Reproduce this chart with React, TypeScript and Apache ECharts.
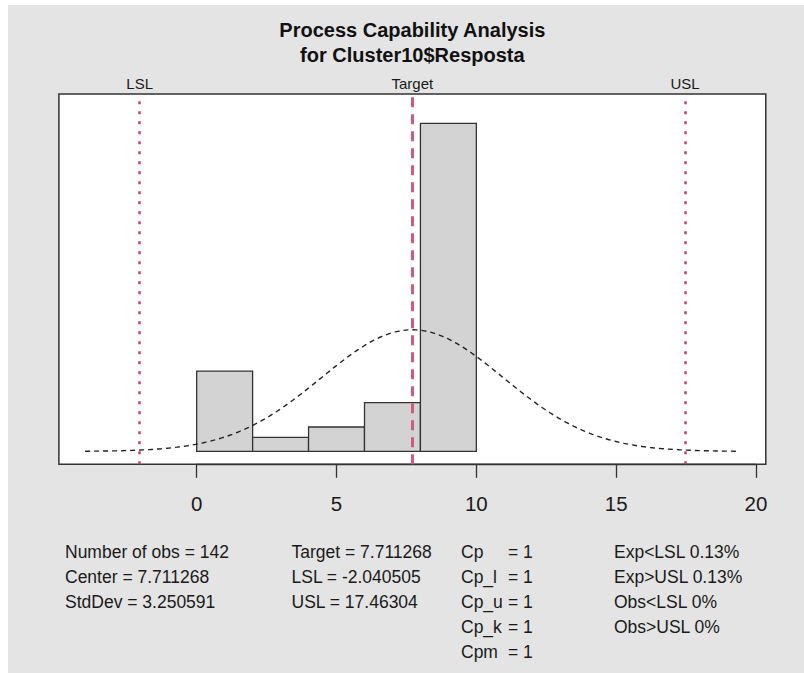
import React, { useEffect, useRef } from "react";
import * as echarts from "echarts";

// ---- data ----
const binEdges = [0, 2, 4, 6, 8, 10];
const binCounts = [23, 4, 7, 14, 94];
const nObs = 142;
const center = 7.711268;
const stdDev = 3.250591;
const LSL = -2.040505;
const USL = 17.46304;
const target = 7.711268;
const xTicks = [0, 5, 10, 15, 20];

const statsCol1 = ["Number of obs = 142", "Center = 7.711268", "StdDev = 3.250591"];
const statsCol2 = ["Target = 7.711268", "LSL = -2.040505", "USL = 17.46304"];
const capNames = ["Cp", "Cp_l", "Cp_u", "Cp_k", "Cpm"];
const capValues = ["1", "1", "1", "1", "1"];
const statsCol4 = ["Exp<LSL 0.13%", "Exp>USL 0.13%", "Obs<LSL 0%", "Obs>USL 0%"];

const FONT = "'Liberation Sans', Arial, sans-serif";

export default function App() {
  const ref = useRef<HTMLDivElement>(null);
  useEffect(() => {
    if (!ref.current) return;
    const chart = echarts.init(ref.current, undefined, { renderer: "svg" });

    const histData = binCounts.map((c, i) => {
      const w = binEdges[i + 1] - binEdges[i];
      return [binEdges[i], binEdges[i + 1], c / (nObs * w)];
    });

    // normal density from the stated center / std.dev (center ± 3.6 sd)
    const lo = center - 3.6 * stdDev;
    const hi = center + 3.6 * stdDev;
    const nPts = 250;
    const curve: number[][] = [];
    for (let i = 0; i < nPts; i++) {
      const x = lo + ((hi - lo) * i) / (nPts - 1);
      const z = (x - center) / stdDev;
      curve.push([x, Math.exp(-0.5 * z * z) / (stdDev * Math.sqrt(2 * Math.PI))]);
    }
    const pad = (hi - lo) * 0.04;

    const gLeft = 58.9;
    const gTop = 94;
    const gWidth = 706.9;
    const gHeight = 370.3;
    const xMin = lo - pad;
    const xMax = hi + pad;
    const x0px = gLeft + ((0 - xMin) / (xMax - xMin)) * gWidth;
    const x20px = gLeft + ((20 - xMin) / (xMax - xMin)) * gWidth;

    const textStyle = (t: string, x: number, y: number, align = "left") => ({
      type: "text",
      x,
      y,
      silent: true,
      style: {
        text: t,
        fill: "#1a1a1a",
        font: `17.5px ${FONT}`,
        textAlign: align,
        textVerticalAlign: "middle",
      },
    });

    const rowY = [552, 577, 602, 627, 652];
    const graphics: any[] = [];
    statsCol1.forEach((t, i) => graphics.push(textStyle(t, 65, rowY[i])));
    statsCol2.forEach((t, i) => graphics.push(textStyle(t, 291.5, rowY[i])));
    capNames.forEach((t, i) => {
      graphics.push(textStyle(t, 461, rowY[i]));
      graphics.push(textStyle("= " + capValues[i], 508, rowY[i]));
    });
    statsCol4.forEach((t, i) => graphics.push(textStyle(t, 614, rowY[i])));
    graphics.push({
      type: "text",
      x: gLeft + gWidth / 2,
      y: 42.5,
      silent: true,
      style: {
        text: "Process Capability Analysis\nfor Cluster10$Resposta",
        fill: "#111",
        font: `bold 20px ${FONT}`,
        lineHeight: 25,
        textAlign: "center",
        textVerticalAlign: "middle",
      },
    });

    const specColor = "#c4456c";
    const option: any = {
      animation: false,
      backgroundColor: "transparent",
      textStyle: { fontFamily: FONT },
      grid: [
        {
          left: gLeft,
          top: gTop,
          width: gWidth,
          height: gHeight,
          show: true,
          backgroundColor: "#ffffff",
          borderColor: "#333",
          borderWidth: 1.5,
        },
        {
          left: x0px,
          top: gTop,
          width: x20px - x0px,
          height: gHeight,
          show: false,
        },
      ],
      xAxis: [
        {
          type: "value",
          gridIndex: 0,
          min: xMin,
          max: xMax,
          show: false,
        },
        {
          type: "value",
          gridIndex: 1,
          min: xTicks[0],
          max: xTicks[xTicks.length - 1],
          interval: 5,
          axisLine: { show: true, lineStyle: { color: "#333", width: 1.3 } },
          axisTick: { show: true, length: 13.5, lineStyle: { color: "#333", width: 1.3 } },
          axisLabel: { fontSize: 20.5, color: "#1a1a1a", margin: 29, fontFamily: FONT },
          splitLine: { show: false },
        },
      ],
      yAxis: [
        { type: "value", gridIndex: 0, min: -0.013, max: 0.3607, show: false },
        { type: "value", gridIndex: 1, min: 0, max: 1, show: false },
      ],
      series: [
        {
          type: "custom",
          xAxisIndex: 0,
          yAxisIndex: 0,
          data: histData,
          encode: { x: [0, 1], y: 2 },
          renderItem: (params: any, api: any) => {
            const a = api.coord([api.value(0), 0]);
            const b = api.coord([api.value(1), api.value(2)]);
            return {
              type: "rect",
              shape: { x: a[0], y: b[1], width: b[0] - a[0], height: a[1] - b[1] },
              style: { fill: "#d3d3d3", stroke: "#333", lineWidth: 1.3 },
            };
          },
          z: 2,
        },
        {
          type: "line",
          xAxisIndex: 0,
          yAxisIndex: 0,
          data: curve,
          showSymbol: false,
          symbol: "none",
          lineStyle: { color: "#222", width: 1.4, type: [5, 4] },
          z: 3,
          markLine: {
            silent: true,
            symbol: "none",
            animation: false,
            label: {
              show: true,
              position: "end",
              distance: 3,
              fontSize: 15,
              color: "#1a1a1a",
              fontFamily: FONT,
            },
            data: [
              {
                xAxis: LSL,
                label: { formatter: "LSL" },
                lineStyle: { color: specColor, width: 2.5, type: [3, 7] },
              },
              {
                xAxis: target,
                label: { formatter: "Target" },
                lineStyle: { color: "#cf5c7e", width: 3, type: [10, 7] },
              },
              {
                xAxis: USL,
                label: { formatter: "USL" },
                lineStyle: { color: specColor, width: 2.5, type: [3, 7] },
              },
            ],
          },
        },
      ],
      graphic: graphics,
    };
    chart.setOption(option);
    return () => chart.dispose();
  }, []);

  return (
    <div
      style={{
        position: "fixed",
        left: 0,
        top: 0,
        width: 804,
        height: 673,
        background: "#ffffff",
      }}
    >
      <div
        style={{
          position: "absolute",
          left: 8,
          top: 5,
          right: 0,
          bottom: 0,
          background: "#e4e4e4",
        }}
      />
      <div ref={ref} style={{ position: "absolute", left: 0, top: 0, width: 804, height: 673 }} />
    </div>
  );
}
